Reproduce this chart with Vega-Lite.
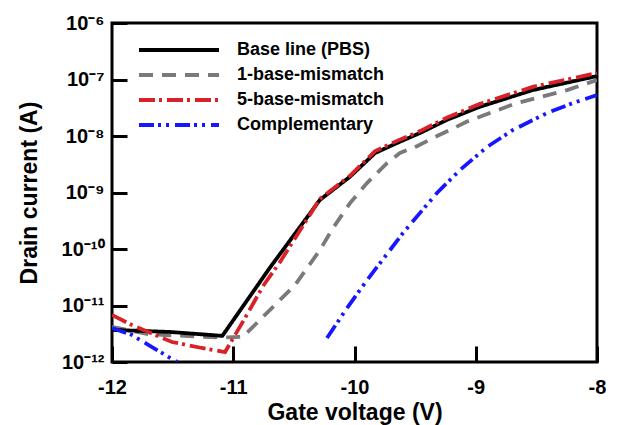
{
  "$schema": "https://vega.github.io/schema/vega-lite/v6.json",
  "width": 485,
  "height": 339,
  "autosize": {"type": "none"},
  "padding": {"left": 112, "top": 23, "right": 20, "bottom": 63},
  "background": "white",
  "config": {
    "view": {"stroke": "black", "strokeWidth": 3},
    "font": "Liberation Sans"
  },
  "data": {
    "values": [
      {"s": "1-base-mismatch", "g": "gray", "x": -12, "y": 4.2e-12},
      {"s": "1-base-mismatch", "g": "gray", "x": -11.7, "y": 3.1e-12},
      {"s": "1-base-mismatch", "g": "gray", "x": -11.1, "y": 2.7e-12},
      {"s": "1-base-mismatch", "g": "gray", "x": -10.92, "y": 2.8e-12},
      {"s": "1-base-mismatch", "g": "gray", "x": -10.722, "y": 7.4e-12},
      {"s": "1-base-mismatch", "g": "gray", "x": -10.491, "y": 2.3e-11},
      {"s": "1-base-mismatch", "g": "gray", "x": -10.285, "y": 9.6e-11},
      {"s": "1-base-mismatch", "g": "gray", "x": -10.177, "y": 2.35e-10},
      {"s": "1-base-mismatch", "g": "gray", "x": -10.037, "y": 6.5e-10},
      {"s": "1-base-mismatch", "g": "gray", "x": -9.897, "y": 1.47e-9},
      {"s": "1-base-mismatch", "g": "gray", "x": -9.732, "y": 3.3e-9},
      {"s": "1-base-mismatch", "g": "gray", "x": -9.625, "y": 5.0e-9},
      {"s": "1-base-mismatch", "g": "gray", "x": -9.485, "y": 6.6e-9},
      {"s": "1-base-mismatch", "g": "gray", "x": -9.353, "y": 9.2e-9},
      {"s": "1-base-mismatch", "g": "gray", "x": -9.212, "y": 1.28e-8},
      {"s": "1-base-mismatch", "g": "gray", "x": -9.072, "y": 1.8e-8},
      {"s": "1-base-mismatch", "g": "gray", "x": -8.66, "y": 3.84e-8},
      {"s": "1-base-mismatch", "g": "gray", "x": -8.247, "y": 6.5e-8},
      {"s": "1-base-mismatch", "g": "gray", "x": -8.0, "y": 9.8e-8},

      {"s": "Base line (PBS)", "g": "black", "x": -12, "y": 3.7e-12},
      {"s": "Base line (PBS)", "g": "black", "x": -11.52, "y": 3.4e-12},
      {"s": "Base line (PBS)", "g": "black", "x": -11.09, "y": 2.9e-12},
      {"s": "Base line (PBS)", "g": "black", "x": -10.7, "y": 4.6e-11},
      {"s": "Base line (PBS)", "g": "black", "x": -10.285, "y": 7.4e-10},
      {"s": "Base line (PBS)", "g": "black", "x": -10.04, "y": 1.88e-9},
      {"s": "Base line (PBS)", "g": "black", "x": -9.83, "y": 5.0e-9},
      {"s": "Base line (PBS)", "g": "black", "x": -9.65, "y": 7.5e-9},
      {"s": "Base line (PBS)", "g": "black", "x": -9.46, "y": 1.13e-8},
      {"s": "Base line (PBS)", "g": "black", "x": -9.24, "y": 1.92e-8},
      {"s": "Base line (PBS)", "g": "black", "x": -8.965, "y": 3.3e-8},
      {"s": "Base line (PBS)", "g": "black", "x": -8.53, "y": 6.5e-8},
      {"s": "Base line (PBS)", "g": "black", "x": -8.0, "y": 1.15e-7},

      {"s": "5-base-mismatch", "g": "red", "x": -12, "y": 6.8e-12},
      {"s": "5-base-mismatch", "g": "red", "x": -11.835, "y": 4.5e-12},
      {"s": "5-base-mismatch", "g": "red", "x": -11.505, "y": 2.26e-12},
      {"s": "5-base-mismatch", "g": "red", "x": -11.258, "y": 1.77e-12},
      {"s": "5-base-mismatch", "g": "red", "x": -11.068, "y": 1.5e-12},
      {"s": "5-base-mismatch", "g": "red", "x": -10.903, "y": 6.0e-12},
      {"s": "5-base-mismatch", "g": "red", "x": -10.755, "y": 2.2e-11},
      {"s": "5-base-mismatch", "g": "red", "x": -10.614, "y": 5.9e-11},
      {"s": "5-base-mismatch", "g": "red", "x": -10.285, "y": 7.7e-10},
      {"s": "5-base-mismatch", "g": "red", "x": -10.04, "y": 1.96e-9},
      {"s": "5-base-mismatch", "g": "red", "x": -9.83, "y": 5.4e-9},
      {"s": "5-base-mismatch", "g": "red", "x": -9.65, "y": 8.2e-9},
      {"s": "5-base-mismatch", "g": "red", "x": -9.46, "y": 1.22e-8},
      {"s": "5-base-mismatch", "g": "red", "x": -9.24, "y": 2.1e-8},
      {"s": "5-base-mismatch", "g": "red", "x": -8.965, "y": 3.7e-8},
      {"s": "5-base-mismatch", "g": "red", "x": -8.53, "y": 7.4e-8},
      {"s": "5-base-mismatch", "g": "red", "x": -8.0, "y": 1.3e-7},

      {"s": "Complementary", "g": "blue1", "x": -12, "y": 4.0e-12},
      {"s": "Complementary", "g": "blue1", "x": -11.835, "y": 3.0e-12},
      {"s": "Complementary", "g": "blue1", "x": -11.67, "y": 1.84e-12},
      {"s": "Complementary", "g": "blue1", "x": -11.49, "y": 1.08e-12},
      {"s": "Complementary", "g": "blue1", "x": -11.46, "y": 1.0e-12},
      {"s": "Complementary", "g": "blue2", "x": -10.227, "y": 2.66e-12},
      {"s": "Complementary", "g": "blue2", "x": -10.062, "y": 9.0e-12},
      {"s": "Complementary", "g": "blue2", "x": -9.897, "y": 2.8e-11},
      {"s": "Complementary", "g": "blue2", "x": -9.6, "y": 1.92e-10},
      {"s": "Complementary", "g": "blue2", "x": -9.32, "y": 9.8e-10},
      {"s": "Complementary", "g": "blue2", "x": -9.13, "y": 2.5e-9},
      {"s": "Complementary", "g": "blue2", "x": -8.907, "y": 6.4e-9},
      {"s": "Complementary", "g": "blue2", "x": -8.693, "y": 1.28e-8},
      {"s": "Complementary", "g": "blue2", "x": -8.412, "y": 2.55e-8},
      {"s": "Complementary", "g": "blue2", "x": -8.198, "y": 3.84e-8},
      {"s": "Complementary", "g": "blue2", "x": -8.0, "y": 5.3e-8}
    ]
  },
  "mark": {"type": "line", "strokeWidth": 3.8, "clip": true},
  "encoding": {
    "x": {
      "field": "x",
      "type": "quantitative",
      "scale": {"domain": [-12, -8], "nice": false, "zero": false},
      "axis": {
        "title": "Gate voltage (V)",
        "values": [-12, -11, -10, -9, -8],
        "labelExpr": "'' + datum.value",
        "grid": false,
        "domain": false,
        "tickSize": -16,
        "tickWidth": 3,
        "tickColor": "black",
        "labelFont": "Liberation Sans",
        "labelFontWeight": "bold",
        "labelFontSize": 20,
        "labelColor": "black",
        "labelPadding": 31,
        "labelFlush": false,
        "titleFont": "Liberation Sans",
        "titleFontWeight": "bold",
        "titleFontSize": 23,
        "titleColor": "black",
        "titlePadding": 4
      }
    },
    "y": {
      "field": "y",
      "type": "quantitative",
      "scale": {"type": "log", "domain": [1e-12, 1e-6], "nice": false},
      "axis": {
        "title": "Drain current (A)",
        "values": [1e-12, 1e-11, 1e-10, 1e-9, 1e-8, 1e-7, 1e-6],
        "labelExpr": "'10' + ['⁰','⁻¹','⁻²','⁻³','⁻⁴','⁻⁵','⁻⁶','⁻⁷','⁻⁸','⁻⁹','⁻¹⁰','⁻¹¹','⁻¹²'][-round(log(datum.value)/LN10)]",
        "grid": false,
        "domain": false,
        "tickSize": -15,
        "tickWidth": 3,
        "tickColor": "black",
        "labelFont": "Liberation Sans",
        "labelFontWeight": "bold",
        "labelFontSize": 20,
        "labelColor": "black",
        "labelPadding": 23,
        "labelFlush": false,
        "titleFont": "Liberation Sans",
        "titleFontWeight": "bold",
        "titleFontSize": 23,
        "titleColor": "black",
        "titlePadding": 20
      }
    },
    "color": {
      "field": "s",
      "type": "nominal",
      "scale": {
        "domain": ["Base line (PBS)", "1-base-mismatch", "5-base-mismatch", "Complementary"],
        "range": ["#000000", "#7a7a7a", "#d82228", "#1717ff"]
      },
      "legend": {
        "title": null,
        "orient": "none",
        "legendX": 55,
        "legendY": 15,
        "padding": 0,
        "symbolType": "M-4,0H4",
        "symbolSize": 400,
        "symbolStrokeWidth": 4,
        "labelOffset": 46,
        "labelFont": "Liberation Sans",
        "labelFontWeight": "bold",
        "labelFontSize": 18,
        "labelColor": "black",
        "rowPadding": 4,
        "labelLimit": 300
      }
    },
    "strokeDash": {
      "field": "s",
      "type": "nominal",
      "scale": {
        "domain": ["Base line (PBS)", "1-base-mismatch", "5-base-mismatch", "Complementary"],
        "range": [[1, 0], [14, 9], [16, 4, 3, 5], [15, 4, 3, 5, 3, 6]]
      },
      "legend": {
        "title": null,
        "orient": "none",
        "legendX": 55,
        "legendY": 15,
        "padding": 0,
        "symbolType": "M-4,0H4",
        "symbolSize": 400,
        "symbolStrokeWidth": 4,
        "labelOffset": 46,
        "labelFont": "Liberation Sans",
        "labelFontWeight": "bold",
        "labelFontSize": 18,
        "labelColor": "black",
        "rowPadding": 4,
        "labelLimit": 300
      }
    },
    "detail": {"field": "g", "type": "nominal"}
  }
}
